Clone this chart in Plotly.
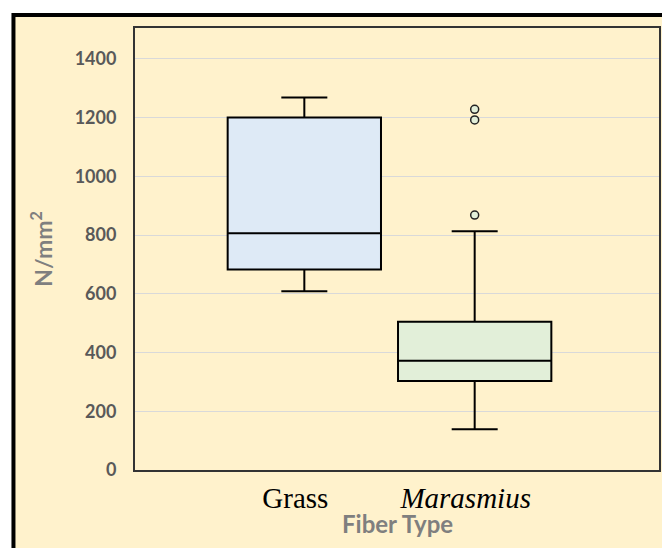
import plotly.graph_objects as go

# Data
categories = ["Grass", "Marasmius"]
tick_text = ["Grass", "<i>Marasmius</i>"]
x_pos = [0, 1]
lower_whisker = [609, 139]
q1 = [683, 303]
median = [806, 372]
q3 = [1200, 505]
upper_whisker = [1268, 813]
marasmius_outliers = [868, 1192, 1228]
y_ticks = [0, 200, 400, 600, 800, 1000, 1200, 1400]
x_title = "Fiber Type"
y_title = "N/mm<sup>2</sup>"

fills = ["#DEEAF6", "#E2EFD9"]

fig = go.Figure()
for i, cat in enumerate(categories):
    fig.add_trace(go.Box(
        name=cat,
        x=[x_pos[i]],
        q1=[q1[i]], median=[median[i]], q3=[q3[i]],
        lowerfence=[lower_whisker[i]], upperfence=[upper_whisker[i]],
        fillcolor=fills[i],
        line=dict(color="#000000", width=2),
        width=0.9,
        whiskerwidth=0.3,
        boxpoints=False,
        showlegend=False,
        hoverinfo="skip",
    ))

fig.add_trace(go.Scatter(
    x=[x_pos[1]] * len(marasmius_outliers),
    y=marasmius_outliers,
    mode="markers",
    marker=dict(symbol="circle", size=8, color="#E2EFD9",
                line=dict(color="#222222", width=1.5)),
    showlegend=False,
    hoverinfo="skip",
))

# page body has an 8px margin, so figure coordinates = window coordinates - 8
W, H = 662, 540
L, R, T, B = 127, 9, 20, 78
pw, ph = W - L - R, H - T - B

def px_x(p):
    return (p - L) / pw

def px_y(p):
    return (H - B - p) / ph

fig.add_shape(type="rect", xref="paper", yref="paper",
              x0=px_x(5), x1=px_x(700), y0=px_y(600), y1=px_y(7),
              fillcolor="#FFF2CC", line=dict(color="#000000", width=4),
              layer="below")

fig.add_annotation(text="<b>" + x_title + "</b>", xref="paper", yref="paper",
                   x=0.5, y=px_y(515), xanchor="center", yanchor="middle",
                   showarrow=False,
                   font=dict(family="Lato", size=24, color="#7f7f7f"))

fig.update_layout(
    width=W, height=H,
    margin=dict(l=L, r=R, t=T, b=B, pad=0),
    paper_bgcolor="#FFFFFF",
    plot_bgcolor="#FFFFFF",
    xaxis=dict(
        range=[-0.994, 2.082],
        tickvals=x_pos, ticktext=tick_text,
        tickfont=dict(family="Liberation Serif", size=29, color="#000000"),
        showgrid=False, zeroline=False,
        showline=True, linecolor="#333333", linewidth=2, mirror=True,
        ticks="", ticklabelstandoff=1, ticklabelshift=-9,
    ),
    yaxis=dict(
        range=[0, 1505],
        tickvals=y_ticks,
        tickfont=dict(family="Lato", size=18, color="#595959", weight="bold"),
        showgrid=True, gridcolor="#D9D9D9", gridwidth=1,
        zeroline=False,
        showline=True, linecolor="#333333", linewidth=2, mirror=True,
        ticks="", ticklabelstandoff=13,
        title=dict(text="<b>" + y_title + "</b>",
                   font=dict(family="Lato", size=23, color="#7f7f7f"),
                   standoff=16),
    ),
)

fig.write_html("out.html")
